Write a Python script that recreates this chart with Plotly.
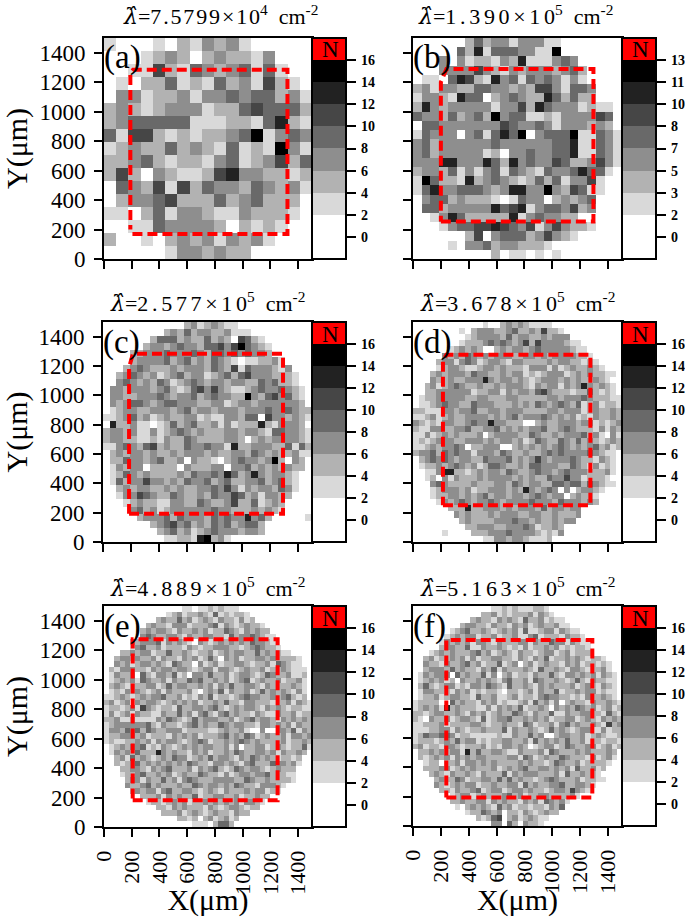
import plotly.graph_objects as go

W, H = 685, 917

# Grey band of each cell, top row first: 0 white, 1 light grey ... 7 black
PANEL_A = [
    "10001 02132 31000 00",
    "00012 32023 22130 00",
    "00115 21432 34141 00",
    "01022 41214 23152 10",
    "03312 23133 43442 31",
    "23212 33312 24544 42",
    "23444 44111 22146 21",
    "41552 12122 34713 43",
    "12322 42321 41217 31",
    "22342 12213 41235 24",
    "25203 21125 63322 12",
    "04325 15243 32432 31",
    "02334 52224 23422 20",
    "11024 13321 13222 10",
    "00114 33332 02121 00",
    "20010 23231 32310 00",
    "00000 13323 22000 00",
]
PANEL_B = [
    "000000242331333110000000",
    "000004261444331170000000",
    "000303122132611134300000",
    "000333353213233323420000",
    "011046521634143431310000",
    "231332244332325531443000",
    "133216440234322642422000",
    "263233333133526433312110",
    "433242342734411213333540",
    "044333333354334313332320",
    "143330341464703444711431",
    "342333333433333344611431",
    "342333331203343344611431",
    "333663336426343354223531",
    "233241313414321433464410",
    "174221623432124241335100",
    "146334443236633732541100",
    "034423222101433023234000",
    "044233333645613443523000",
    "001364222226134332200000",
    "000134455654351353221000",
    "000000250344423532100000",
    "000010334233222100000000",
    "000000000201101010000000",
]
PANEL_C = [
    "00000 00000 00231 23211 00000 00000 0",
    "00000 00002 32423 32231 11000 00000 0",
    "00000 00244 42322 42320 54210 00000 0",
    "00000 02332 34332 44535 74321 00000 0",
    "00002 23334 33343 24434 34332 00000 0",
    "00002 33334 23423 24321 01122 31000 0",
    "00023 43222 32333 24325 14333 21300 0",
    "00234 32312 34233 12342 45333 22210 0",
    "00343 23243 12343 23323 32243 42210 0",
    "03323 33234 21245 35321 12343 34321 0",
    "03322 33343 23342 34332 27324 53421 0",
    "03234 43234 43332 23312 33233 33332 0",
    "01233 22333 23423 32333 23334 33432 2",
    "11234 23123 22331 21133 24405 33232 1",
    "06223 11012 42342 23131 22262 13332 0",
    "23323 11312 34323 22233 23321 44332 1",
    "23322 11213 22432 22233 20232 33332 1",
    "11343 24523 22433 43316 22333 22414 2",
    "02323 32322 32333 23223 32432 32231 1",
    "02243 32342 23032 21023 43323 72032 0",
    "01323 30222 20322 23303 34232 32322 0",
    "01243 23222 23243 34364 23632 33210 0",
    "01423 35332 32433 42342 23342 34210 0",
    "00232 33223 23223 34353 13233 24310 0",
    "00133 54322 43223 24335 42313 32200 0",
    "00012 32211 33224 32235 22412 32000 0",
    "00003 42312 33333 34332 22323 21000 0",
    "00000 23334 24333 24343 36342 00000 1",
    "00000 00234 53423 24342 34420 00000 0",
    "00000 00023 42312 34333 23320 00000 0",
    "00000 00001 12216 72310 00000 00000 0",
]
PANEL_D = [
    "000000 000000 100232 321111 000000 000000",
    "000000 001023 332234 223252 210000 000000",
    "000000 000123 333242 332232 333000 000000",
    "000000 001222 343432 352533 332110 000000",
    "000000 123232 002323 323433 333211 000000",
    "000003 232432 323332 233232 333322 100000",
    "000023 313431 233213 322223 233221 210000",
    "000012 332112 332322 213331 312322 321000",
    "000232 333243 322323 312123 331232 322110",
    "000322 322333 632332 321233 323232 232100",
    "002312 343223 223233 321323 313236 323210",
    "002233 333312 233132 332453 222122 421210",
    "012233 333223 322233 222223 323334 322211",
    "011234 332243 332223 232432 343241 231221",
    "221113 323342 233233 322223 323331 232232",
    "112312 322333 323234 233343 232312 132232",
    "321213 322343 363322 200232 233323 312123",
    "211332 233422 334232 323342 234322 213132",
    "113123 232223 023333 224322 323334 231031",
    "121233 322333 232332 312432 243242 321232",
    "112323 343022 333002 323232 343232 342312",
    "233424 343313 332432 232234 343333 432110",
    "023434 323322 433342 323532 333432 213210",
    "012232 343231 244322 324433 322432 131210",
    "001136 622123 233243 223433 234333 222310",
    "001203 132223 233332 323224 335331 222100",
    "000343 222232 223324 323322 443442 432110",
    "000123 332312 233323 263234 303023 321000",
    "000122 332323 423323 323432 330232 210000",
    "000013 234323 343233 334333 243332 320000",
    "000000 222622 333232 333242 332330 000000",
    "000000 032322 232333 223322 322230 000000",
    "000000 002322 223334 332322 323300 000000",
    "000000 000223 332233 343122 320000 000000",
    "000001 000022 233343 333212 130000 000000",
    "000000 000000 113323 321112 000000 000000",
]
PANEL_E = [
    "00000 00000 00000 11011 21211 10000 00000 00000",
    "00000 00000 00123 12232 14121 22100 00000 00000",
    "00000 00000 23224 23123 21322 13120 00000 00000",
    "00000 00023 22133 31222 34132 12322 10000 00000",
    "00000 00232 33213 22323 12243 21323 22000 00000",
    "00000 00343 22332 13223 32214 23343 21100 00000",
    "00000 22333 41323 21032 12323 23243 32100 00000",
    "00000 13422 31222 13212 23332 21234 32210 00000",
    "00022 32331 22422 32122 31232 33224 23221 10000",
    "00233 23223 13221 32312 42032 31223 32322 22100",
    "00323 12332 32143 22031 23122 33212 23143 21100",
    "02133 32213 23323 32123 31332 12322 31223 21110",
    "01322 30421 33241 20332 42231 23321 24322 31120",
    "01232 31432 23132 24342 23231 23412 32231 22310",
    "02321 22233 12423 32232 31324 22332 13222 23210",
    "01213 23212 31322 23102 32413 22312 42323 21310",
    "11232 12323 34223 12132 41221 23433 22323 42120",
    "23123 03233 21232 32312 23242 21332 22122 31321",
    "12212 31532 12214 22332 34212 32332 13232 12211",
    "13123 13221 13224 23134 21342 32213 21132 23122",
    "22311 21111 32432 12423 33223 12342 33213 23232",
    "12333 33342 13221 23423 22432 33221 33232 31322",
    "13324 34243 22333 12222 11232 23100 30033 24132",
    "12233 32312 22132 32312 22342 32431 23223 13323",
    "12112 23231 32332 12343 12232 34323 22223 12232",
    "01232 33412 13212 32323 32231 30223 31232 12241",
    "01323 24222 63232 21323 12232 43223 32313 22320",
    "00231 42321 23243 31232 42332 13243 23212 21200",
    "00212 34232 32323 24322 13323 21342 22433 23100",
    "00022 33213 23422 23132 34212 43233 21232 22000",
    "00012 23422 32312 32243 22131 23323 34222 11000",
    "00002 33132 24231 34322 23333 22432 23222 21000",
    "00003 22342 32223 22432 33232 43221 33321 00000",
    "00000 23233 13422 33212 32132 22323 31210 00000",
    "00000 00222 31323 22412 23322 31223 22000 00000",
    "00000 00012 21232 31223 23232 31332 10000 00000",
    "00000 00000 22132 32221 32123 32122 00000 00000",
    "00000 00000 02223 12321 23221 32200 00000 00000",
    "00000 00000 00002 21202 31231 20000 00000 00000",
    "00000 00000 00000 00111 02442 00000 00000 00000",
]
PANEL_F = [
    "00000 00000 00000 11212 11122 10000 00000 00000",
    "00000 00000 00022 31212 22313 21000 00000 00000",
    "00000 00000 02322 13232 14223 12110 00000 00000",
    "00000 00002 33221 32213 23123 22311 00000 00000",
    "00000 00123 42232 12323 14112 33132 11000 00000",
    "00000 01232 33122 31223 11341 22213 22100 00000",
    "00000 13232 31332 13222 33132 24331 32110 00000",
    "00000 23322 41132 23212 13122 32312 12210 00000",
    "00012 32322 23423 12321 32212 33123 12220 00000",
    "00231 22323 13122 33221 32132 41223 23212 21000",
    "00322 13223 42312 24123 02312 32213 23122 12100",
    "00233 32423 22132 41322 23214 22321 33212 23100",
    "01323 33042 32241 30231 22132 24213 32323 13210",
    "01232 31203 22323 21342 23143 22321 24213 22110",
    "02421 23312 13324 32142 23213 23222 31232 13210",
    "01332 22132 31212 21022 12313 22412 23233 12110",
    "01223 12332 21422 31123 12213 43322 12132 23210",
    "12222 00423 22132 31211 23142 31302 32213 22321",
    "12323 16232 22113 13232 41223 20323 24323 12312",
    "22123 32232 13231 23224 32132 24113 22332 21421",
    "21032 23123 32141 23342 23232 31223 31232 13232",
    "11222 31222 23321 22322 14312 23134 23223 21523",
    "11122 33132 12232 22413 22321 24232 12331 13122",
    "12433 44312 21111 12113 22423 00233 22312 32112",
    "12221 23242 33121 22332 23142 32324 22312 21221",
    "23122 13321 22231 21332 32012 33124 32233 12312",
    "02232 32331 62422 33211 32223 14322 23232 22320",
    "02123 23132 32332 22233 14312 32243 22213 12310",
    "00122 02231 33232 32222 32322 12432 23122 22100",
    "00222 33123 23222 31232 34223 32323 14223 12000",
    "00023 21322 32132 22413 23332 22314 22322 10000",
    "00002 32243 12233 24242 32212 34322 23122 11000",
    "00003 21232 33122 32233 14232 23342 23321 00000",
    "00000 22132 23412 33123 32322 12332 53210 00000",
    "00000 00123 31232 22342 31223 32222 31000 00000",
    "00000 00223 22331 32322 13231 43231 00000 00000",
    "00000 00010 23232 14231 22122 13240 00000 00000",
    "00000 00000 12243 23022 13212 32200 00000 00000",
    "00000 00000 00212 45023 12321 10000 00000 00000",
    "00000 00000 00000 33042 03221 00000 00000 00000",
]

LETTERS = ["(a)", "(b)", "(c)", "(d)", "(e)", "(f)"]
# hair spaces open up the title a little, the original is set wide
HS = "\u200a"
TITLES = [
    HS.join("7.5799×10") + "<sup>4</sup>", (HS * 2).join("1.390×10") + "<sup>5</sup>",
    (HS * 2).join("2.577×10") + "<sup>5</sup>", (HS * 2).join("3.678×10") + "<sup>5</sup>",
    (HS * 2).join("4.889×10") + "<sup>5</sup>", (HS * 2).join("5.163×10") + "<sup>5</sup>",
]
AXIS_TICKS = [0, 200, 400, 600, 800, 1000, 1200, 1400]
BAR_TICKS = [16, 14, 12, 10, 8, 6, 4, 2, 0]
BAR_LABELS = ["16", "14", "12", "10", "8", "6", "4", "2", "0"]
BAR_LABELS_B = ["13", "11", "10", "8", "7", "5", "3", "2", "0"]

# Dashed region of interest of each panel, um
ROI_X = [
    [205, 1323, 1323, 210, 190, 190],
    [200, 1295, 1295, 240, 200, 200],
    [187, 1292, 1292, 215, 187, 187],
    [215, 1273, 1273, 240, 215, 215],
    [207, 1252, 1252, 207, 207],
    [239, 1287, 1287, 239, 239],
]
ROI_Y = [
    [170, 170, 1285, 1285, 1260, 200],
    [255, 255, 1290, 1290, 1200, 255],
    [193, 193, 1284, 1284, 1190, 193],
    [250, 250, 1277, 1277, 1240, 250],
    [181, 181, 1274, 1274, 181],
    [195, 195, 1268, 1268, 195],
]

SERIF = "Liberation Serif"
BANDS = [(2, "#ffffff"), (4, "#d9d9d9"), (6, "#b2b2b2"), (8, "#8e8e8e"), (10, "#696969"),
         (12, "#464646"), (14, "#222222"), (16, "#000000"), (18, "#ff0000")]


def stepped_scale():
    scale = []
    low = -2
    for high, color in BANDS:
        scale.append([(low + 2) / 20, color])
        scale.append([(high + 2) / 20, color])
        low = high
    return scale


def to_counts(rows):
    grid = []
    for row in rows:
        digits = row.replace(" ", "")
        grid.append([2 * int(d) + 1 if d != "0" else 0 for d in digits])
    return grid


# left, right, top, bottom of each frame, pixels
FRAMES = [
    (104, 312, 38, 259), (413, 622, 38, 259),
    (103, 312, 322, 542), (413, 622, 322, 542),
    (104, 312, 606, 827), (413, 622, 606, 826),
]
TITLE_POS = [(220, 15), (515, 15), (207, 302), (517, 302), (207, 587), (517, 587)]

fig = go.Figure()
annotations = []


def paper_note(text, px, py, size, **kwargs):
    annotations.append(dict(text=text, x=px / W, y=1 - py / H, xref="paper", yref="paper",
                            showarrow=False, font=dict(family=SERIF, size=size, color="black"), **kwargs))


panels = [PANEL_A, PANEL_B, PANEL_C, PANEL_D, PANEL_E, PANEL_F]
for i, rows in enumerate(panels):
    left, right, top, bottom = FRAMES[i]
    grid = to_counts(rows)
    n_rows = len(grid)
    n_cols = len(grid[0])
    xs = [(c + 0.5) * 1500 / n_cols for c in range(n_cols)]
    ys = [1500 - (r + 0.5) * 1500 / n_rows for r in range(n_rows)]
    name = "" if i == 0 else str(i + 1)
    bar_text = BAR_LABELS_B if i == 1 else BAR_LABELS

    fig.add_trace(go.Heatmap(
        x=xs, y=ys, z=grid, zmin=-2, zmax=18, colorscale=stepped_scale(),
        xaxis=f"x{name}", yaxis=f"y{name}", hoverinfo="skip",
        colorbar=dict(
            x=right / W, xanchor="left", xpad=0, y=1 - top / H, yanchor="top", ypad=0,
            len=(bottom - top) / H, thickness=34, outlinecolor="black", outlinewidth=2,
            tickmode="array", tickvals=BAR_TICKS, ticktext=[f"\u2009{t}" for t in bar_text],
            ticks="outside", ticklen=9, tickwidth=2, tickcolor="black",
            tickfont=dict(family=SERIF, size=14, color="black", weight="bold"),
        ),
    ))
    fig.add_trace(go.Scatter(
        x=ROI_X[i], y=ROI_Y[i], mode="lines", xaxis=f"x{name}", yaxis=f"y{name}",
        line=dict(color="#ff0000", width=4, dash="10px,5px"), showlegend=False, hoverinfo="skip",
    ))

    bottom_row = i >= 4
    left_col = i % 2 == 0
    fig.update_layout({
        f"xaxis{name}": dict(
            domain=[left / W, right / W], range=[0, 1500], anchor=f"y{name}",
            tickmode="array", tickvals=AXIS_TICKS, showticklabels=bottom_row, tickangle=-90,
            ticks="outside", ticklen=8, tickwidth=2, tickcolor="black", ticklabelstandoff=5,
            tickfont=dict(family=SERIF, size=22, color="black"),
            title=dict(text="X(μm)" if bottom_row else "", standoff=1,
                       font=dict(family=SERIF, size=30, color="black")),
            showline=True, linecolor="black", linewidth=2, mirror=True, showgrid=False, zeroline=False,
        ),
        f"yaxis{name}": dict(
            domain=[1 - bottom / H, 1 - top / H], range=[0, 1500], anchor=f"x{name}",
            tickmode="array", tickvals=AXIS_TICKS, showticklabels=left_col,
            ticks="outside", ticklen=8, tickwidth=2, tickcolor="black", ticklabelstandoff=4,
            tickfont=dict(family=SERIF, size=23, color="black"),
            title=dict(text="Y(μm)" if left_col else "", standoff=7,
                       font=dict(family=SERIF, size=30, color="black")),
            showline=True, linecolor="black", linewidth=2, mirror=True, showgrid=False, zeroline=False,
        ),
    })

    paper_note(LETTERS[i], left - 2, top + 20, 33, xanchor="left", yanchor="middle")
    paper_note("N", right + 18, top + 12, 23, xanchor="center", yanchor="middle")
    tx, ty = TITLE_POS[i]
    hat = '<span style="font-family:DejaVu Serif;font-style:italic">λ̂</span>'
    paper_note(f"{hat}={TITLES[i]}  cm<sup>-2</sup>", tx, ty, 22, xanchor="center", yanchor="middle")

fig.update_layout(
    width=W, height=H, autosize=False, margin=dict(l=0, r=0, t=0, b=0, autoexpand=False),
    paper_bgcolor="white", plot_bgcolor="white", showlegend=False, annotations=annotations,
)

fig.write_html("out.html", config={"displayModeBar": False},
               post_script="document.body.style.margin='0';")
